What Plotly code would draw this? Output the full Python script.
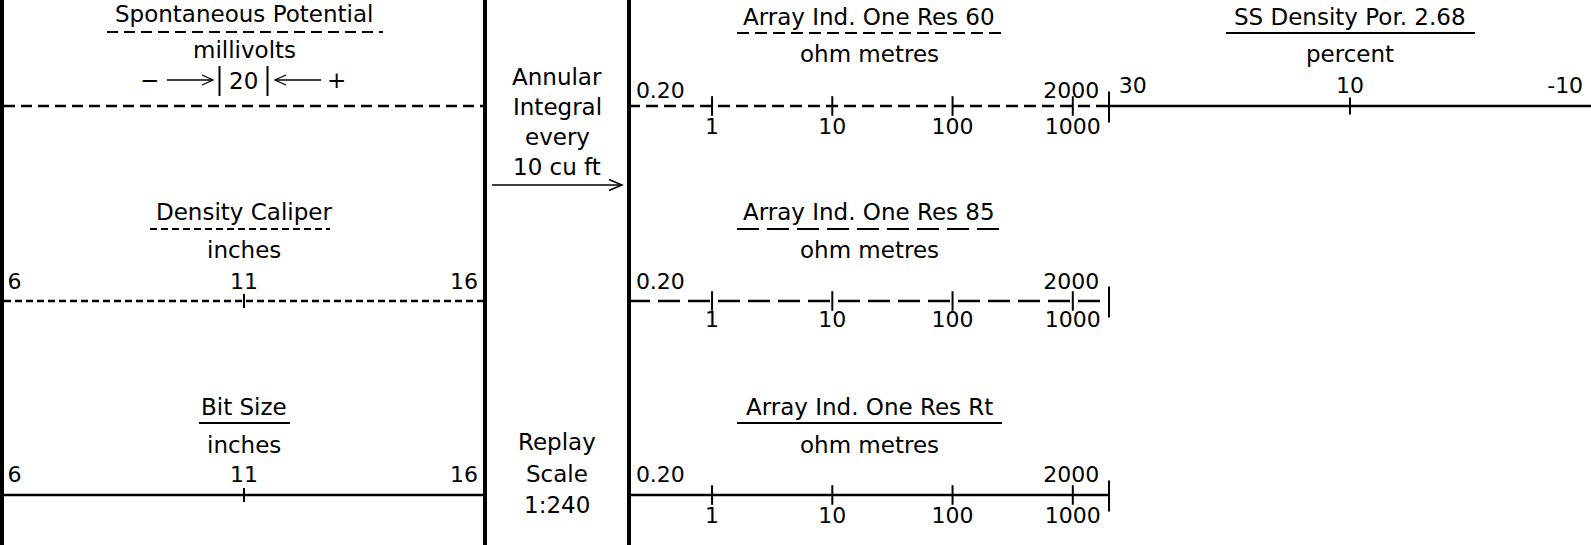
import numpy as np
import plotly.graph_objects as go

# scale data
left_titles = ["Spontaneous Potential", "Density Caliper", "Bit Size"]
left_units = ["millivolts", "inches", "inches"]
sp_scale = 20
in_ends = [6, 16]
in_end_text = ["6", "16"]
in_mid = [11]
in_mid_text = ["11"]

res_titles = ["Array Ind. One Res 60", "Array Ind. One Res 85", "Array Ind. One Res Rt"]
res_units = ["ohm metres", "ohm metres", "ohm metres"]
res_ends = [0.2, 2000]
res_end_text = ["0.20", "2000"]
res_ticks = [1, 10, 100, 1000]
res_tick_text = ["1", "10", "100", "1000"]

por_title = "SS Density Por. 2.68"
por_unit = "percent"
por_ticks = [30, 10, -10]
por_tick_text = ["30", "10", "-10"]

depth_top = ["Annular", "Integral", "every", "10 cu ft"]
depth_bottom = ["Replay", "Scale", "1:240"]

W, H = 1591, 545
FONT = dict(family="DejaVu Sans", size=23, color="black")
LFONT = dict(family="DejaVu Sans", size=22, color="black")

# layout of the three header rows (pixels from top)
line_y = [106, 301, 495]
title_y = [0, 212, 407]
res_title_y = [17, 212, 407]
uline_y = [32, 229, 423]
unit_y = [50, 250, 445]
above_y = [92, 283, 476]
left_above_y = [None, 283, 476]
below_y = [128, 321, 517]
left_dash = ["11px,6px", "7px,4px", "solid"]
res_dash = ["12px,6px", "22px,8px", "solid"]
left_uline = [(107, 383), (150, 330), (199, 290)]
res_uline = (737, 1002)

fig = go.Figure()


def curve(xax, xs, y, dash, width=2.5):
    fig.add_trace(go.Scatter(x=xs, y=[y] * len(xs), xaxis=xax, yaxis="y", mode="lines",
                             line=dict(color="black", width=width, dash=dash),
                             hoverinfo="skip", cliponaxis=False))


def ticks(xax, xs, y, size):
    fig.add_trace(go.Scatter(x=xs, y=[y] * len(xs), xaxis=xax, yaxis="y", mode="markers",
                             marker=dict(symbol="line-ns", size=size,
                                         line=dict(color="black", width=2)),
                             hoverinfo="skip", cliponaxis=False))


def labels(xax, xs, txt, y, pos, pad=0):
    # an invisible marker of size `pad` pushes side-aligned labels off the point
    fig.add_trace(go.Scatter(x=xs, y=[y] * len(xs), xaxis=xax, yaxis="y",
                             mode="markers+text", text=txt, textposition=pos, textfont=LFONT,
                             marker=dict(size=pad, color="rgba(0,0,0,0)"),
                             hoverinfo="skip", cliponaxis=False))


def note(x, y, txt, yanchor="middle"):
    fig.add_annotation(x=x, y=y, xref="x4", yref="y", text=txt, showarrow=False,
                       font=FONT, xanchor="center", yanchor=yanchor, borderpad=0)


def seg(x0, y0, x1, y1, width=2, dash="solid"):
    fig.add_shape(type="line", xref="x4", yref="y", x0=x0, y0=y0, x1=x1, y1=y1,
                  line=dict(color="black", width=width, dash=dash))


def head(path, width=1.5):
    fig.add_shape(type="path", xref="x4", yref="y", path=path,
                  line=dict(color="black", width=width))


# track 1
for i in range(3):
    curve("x", in_ends, line_y[i], left_dash[i], 2.3)
    note(244, title_y[i], left_titles[i], "top" if i == 0 else "middle")
    note(244, unit_y[i], left_units[i])
    seg(left_uline[i][0], uline_y[i], left_uline[i][1], uline_y[i], 2, left_dash[i])
    if i > 0:
        ticks("x", in_mid, line_y[i], 10)
        labels("x", in_ends[:1], in_end_text[:1], left_above_y[i], ["middle right"], 4)
        labels("x", in_ends[1:], in_end_text[1:], left_above_y[i], ["middle left"], 8)
        labels("x", in_mid, in_mid_text, left_above_y[i], ["middle center"])

# SP scale  - -> | 20 | <- +
note(149, 80, "\u2212")
note(336, 80, "+")
note(243, 81, str(sp_scale))
seg(219.5, 66, 219.5, 96, 2)
seg(267.5, 66, 267.5, 96, 2)
seg(167, 80, 212, 80, 1.3)
head("M 202 75 L 213 80 L 202 85", 1.3)
seg(275, 80, 321, 80, 1.3)
head("M 286 75 L 275 80 L 286 85", 1.3)

# track 2 (resistivity, log scale)
for i in range(3):
    curve("x2", res_ends, line_y[i], res_dash[i])
    ticks("x2", res_ticks, line_y[i], 14)
    ticks("x2", res_ends[1:], line_y[i] + 1, 22)
    labels("x2", res_ends[:1], res_end_text[:1], above_y[i], ["middle right"], 11)
    labels("x2", res_ends[1:], res_end_text[1:], above_y[i], ["middle left"], 14)
    labels("x2", res_ticks, res_tick_text, below_y[i], ["middle center"] * 4)
    note(869, res_title_y[i], res_titles[i])
    note(869, unit_y[i] + (4 if i == 0 else 0), res_units[i])
    uy = uline_y[i] + (1 if i == 0 else 0)
    seg(res_uline[0], uy, res_uline[1], uy, 2, res_dash[i])

# track 3 (porosity)
curve("x3", [por_ticks[0], por_ticks[-1]], line_y[0], "solid")
ticks("x3", por_ticks[1:2], line_y[0], 12)
labels("x3", por_ticks[:1], por_tick_text[:1], 87, ["middle right"], 14)
labels("x3", por_ticks[1:2], por_tick_text[1:2], 87, ["middle center"])
labels("x3", por_ticks[2:], por_tick_text[2:], 87, ["middle left"], 11)
note(1350, 17, por_title)
note(1350, 54, por_unit)
seg(1226, 33, 1475, 33, 2)

# depth track
for k, t in enumerate(depth_top):
    note(557, 77 + 30 * k, t)
seg(492, 185, 621, 185, 1.5)
head("M 609 179.5 L 622 185 L 609 190.5", 1.5)
for k, t in enumerate(depth_bottom):
    note(557, 442 + 31.5 * k, t)

# track borders
for bx in [2, 485, 629]:
    seg(bx, 0, bx, H, 4)

fig.update_layout(
    width=W, height=H, margin=dict(l=0, r=0, t=0, b=0),
    paper_bgcolor="white", plot_bgcolor="rgba(0,0,0,0)", showlegend=False,
    xaxis=dict(domain=[4 / W, 484 / W], range=[6, 16], visible=False, anchor="y"),
    xaxis2=dict(domain=[628 / W, 1109 / W], type="log",
                range=[np.log10(0.2), np.log10(2000)], visible=False, anchor="y"),
    xaxis3=dict(domain=[1109 / W, 1], range=[30, -10], visible=False, anchor="y"),
    xaxis4=dict(domain=[0, 1], range=[0, W], visible=False, anchor="y"),
    yaxis=dict(domain=[0, 1], range=[H, 0], visible=False, anchor="x"),
)

fig.write_html("out.html", config={"displayModeBar": False},
               post_script="document.body.style.margin='0px';")
